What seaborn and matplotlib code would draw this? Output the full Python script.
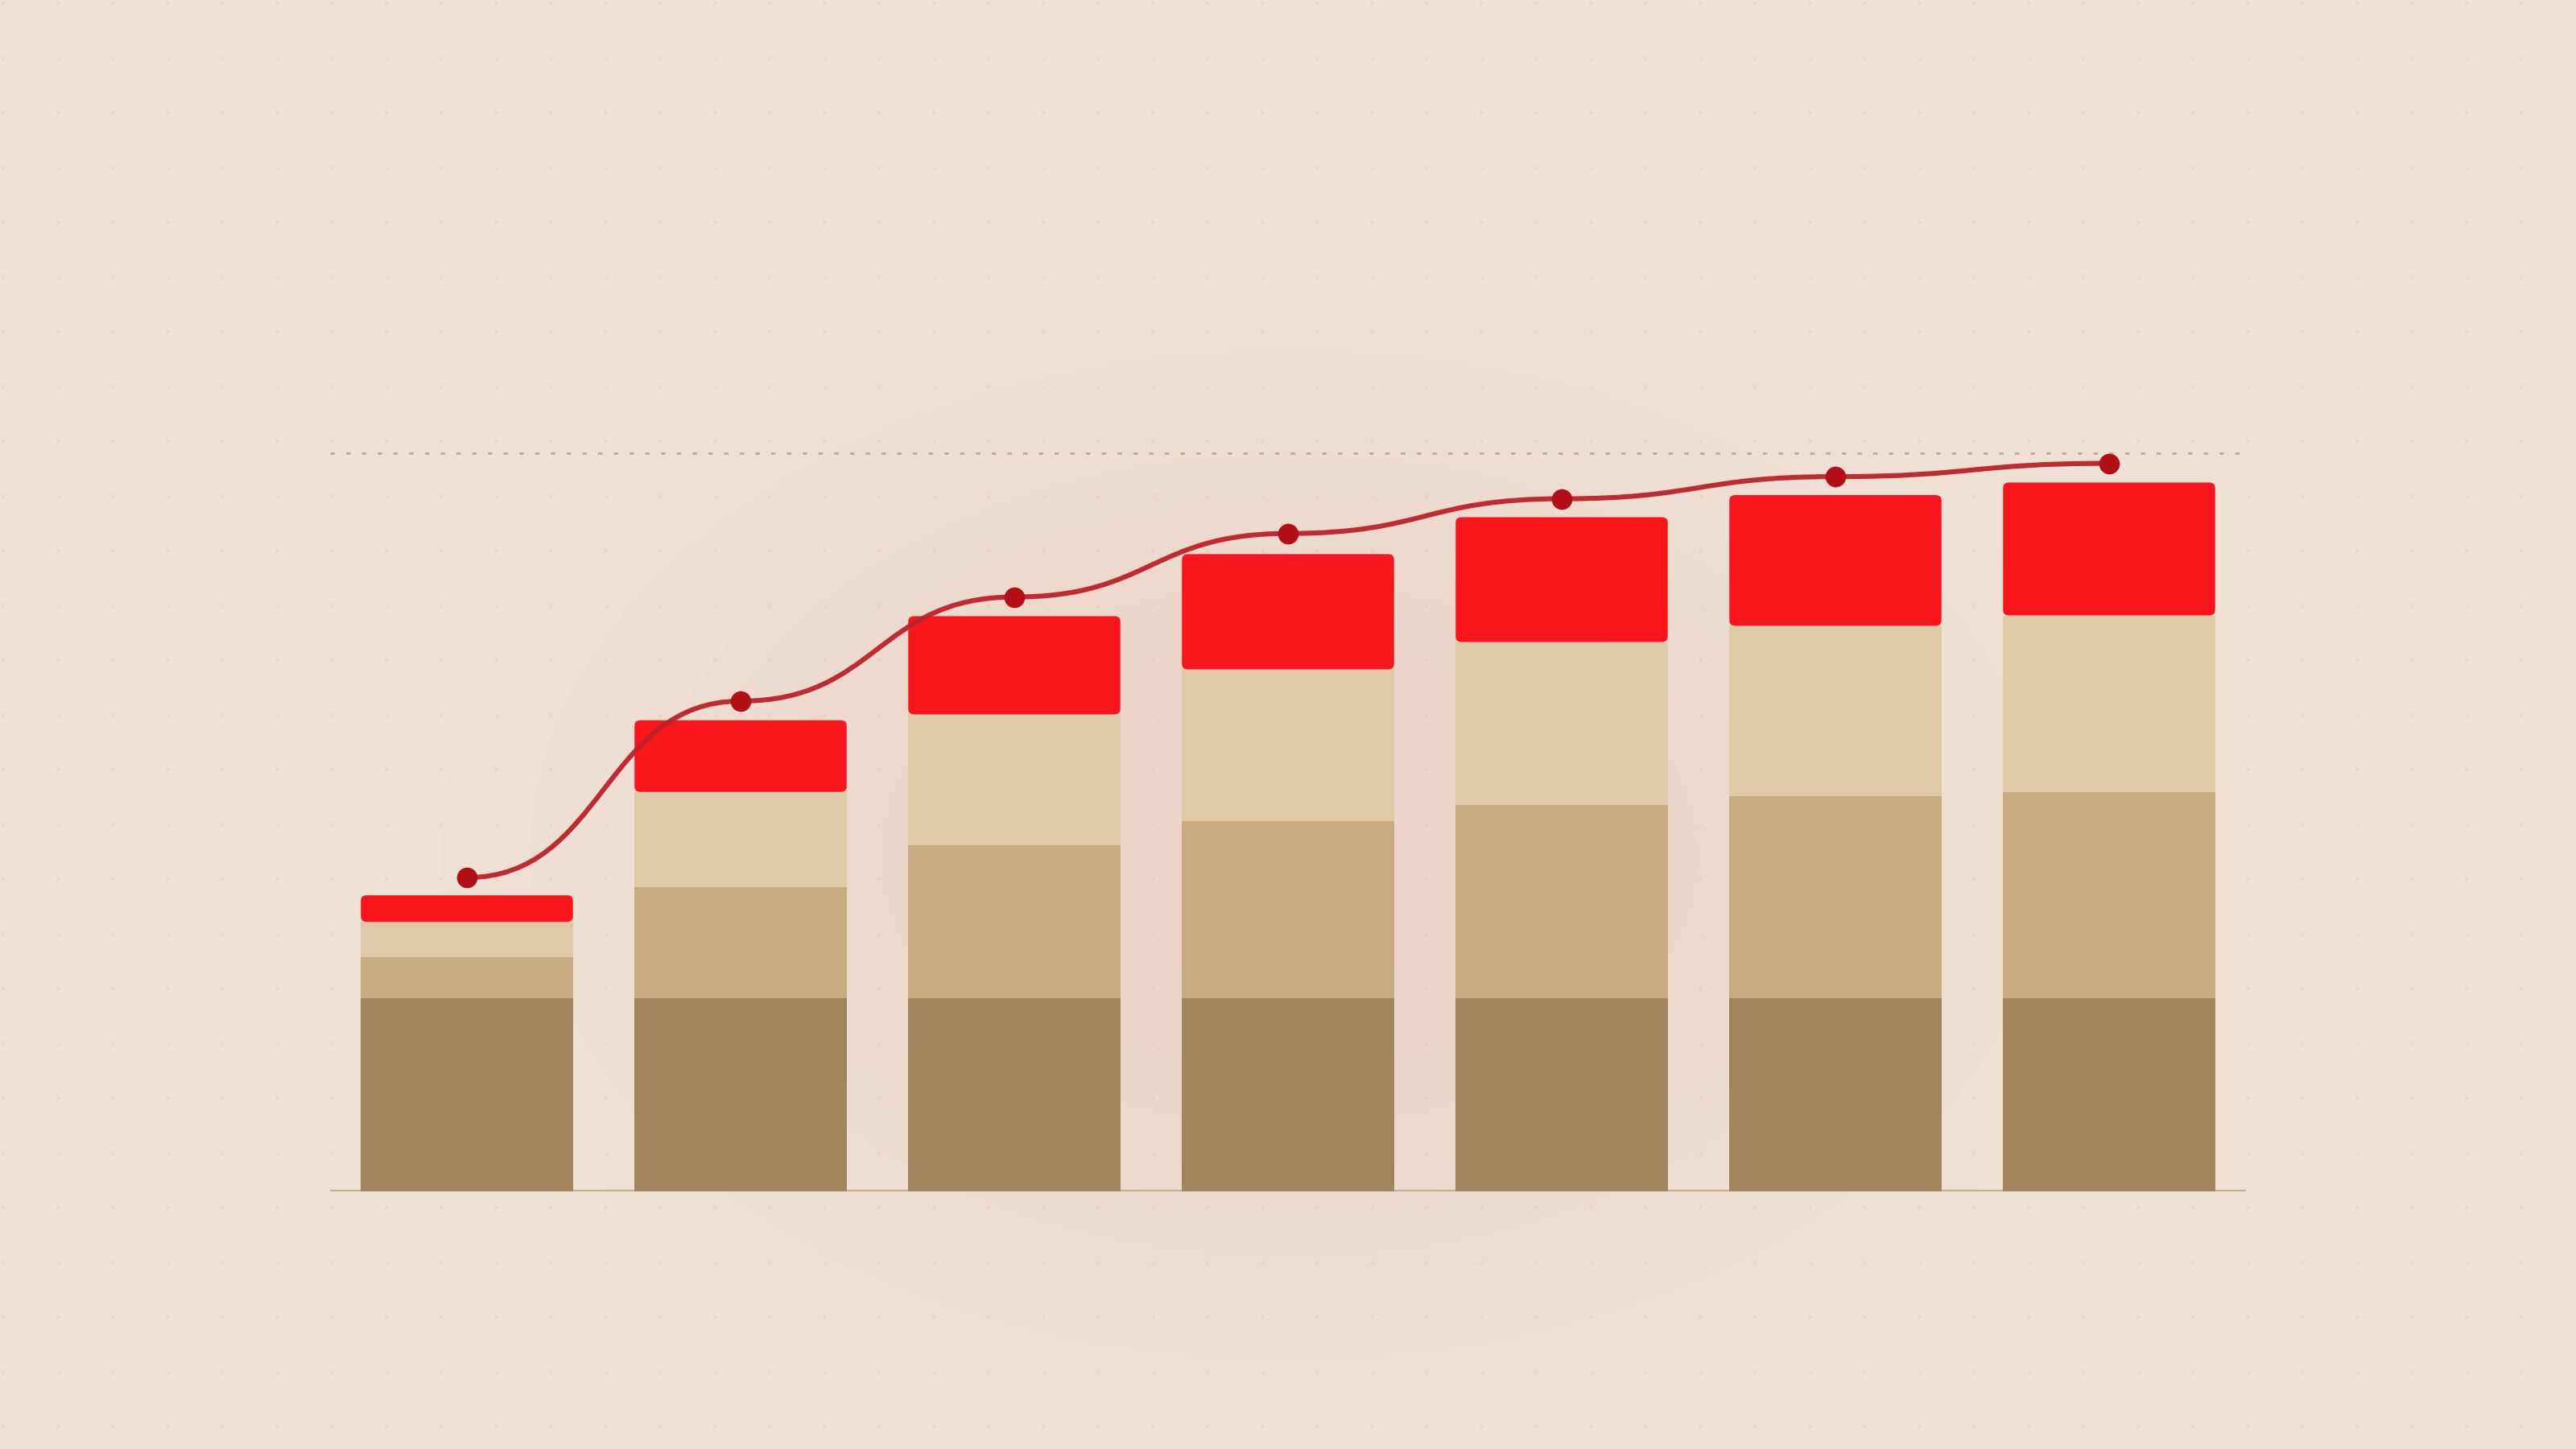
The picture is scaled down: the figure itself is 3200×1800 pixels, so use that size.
import numpy as np
import pandas as pd
import matplotlib
matplotlib.use('Agg')
import matplotlib.pyplot as plt
import seaborn as sns
from matplotlib.patches import FancyBboxPatch, PathPatch
from matplotlib.path import Path

# 데이터
stages = ['P1', 'P2', 'P3', 'P4', 'P5', 'P6', 'P7']
base_layer = [26.2, 26.2, 26.2, 26.2, 26.2, 26.2, 26.2]
mid_layer = [5.5, 15.0, 20.7, 24.0, 26.1, 27.3, 27.9]
light_layer = [4.8, 12.9, 17.7, 20.5, 22.1, 23.1, 23.9]
top_layer = [3.6, 9.7, 13.3, 15.6, 16.9, 17.7, 18.0]
trend = [42.5, 66.4, 80.5, 89.1, 93.8, 96.8, 98.6]
target = 100

# 색상
BG = '#F0E2D5'
GLOW = '#EDD3C8'
DARK = '#A0855F'
MID = '#C7AC80'
LIGHT = '#DFC9A8'
RED = '#F8161C'
LINE = '#BD2129'
MARK = '#B20F17'

df = pd.DataFrame({'stage': stages, 'base': base_layer, 'mid': mid_layer,
                   'light': light_layer, 'top': top_layer})
df['c1'] = df['base']
df['c2'] = df['c1'] + df['mid']
df['c3'] = df['c2'] + df['light']

sns.set_theme(style='white')
fig = plt.figure(figsize=(16, 9), dpi=200)
fig.patch.set_facecolor(BG)

# 배경 (은은한 원형 그라데이션 + 점 격자)
bg = fig.add_axes([0, 0, 1, 1], zorder=-5)
bg.set_axis_off()
W, H = 3200, 1800
yy, xx = np.mgrid[0:H:4, 0:W:4]
w = np.exp(-(((xx - 1600) / 720.0) ** 2 + ((yy - 1060) / 480.0) ** 2) ** 1.3)
c0 = np.array(matplotlib.colors.to_rgb(BG))
c1 = np.array(matplotlib.colors.to_rgb(GLOW))
img = c0[None, None, :] * (1 - w[..., None]) + c1[None, None, :] * w[..., None]
bg.imshow(img, extent=(0, W, H, 0), aspect='auto', interpolation='bilinear')
gx, gy = np.meshgrid(np.arange(4, W, 68), np.arange(4, H, 68))
bg.scatter(gx.ravel(), gy.ravel(), s=2.2, color='#B89A82', alpha=0.13, linewidths=0)
bg.set_xlim(0, W)
bg.set_ylim(H, 0)

# 메인 축
ax = fig.add_axes([410 / W, 320 / H, 2380 / W, 1009 / H])
ax.set_facecolor('none')
bar_w = 0.775

ax.axhline(0, color='#C6AF8C', lw=1.5, zorder=1)
ax.axhline(target, color='#C4AE97', lw=1.1, linestyle=(0, (1.8, 4.6)), zorder=1)

sns.barplot(data=df, x='stage', y='c3', color=LIGHT, saturation=1, width=bar_w,
            ax=ax, zorder=2, linewidth=0)
sns.barplot(data=df, x='stage', y='c2', color=MID, saturation=1, width=bar_w,
            ax=ax, zorder=2, linewidth=0)
sns.barplot(data=df, x='stage', y='c1', color=DARK, saturation=1, width=bar_w,
            ax=ax, zorder=2, linewidth=0)

n_before = len(ax.patches)
sns.barplot(data=df, x='stage', y='top', color=RED, saturation=1, width=bar_w,
            ax=ax, zorder=3, linewidth=0)
ax.set_xlim(-0.5, len(stages) - 0.5)
ax.set_ylim(0, 110)

# 빨간 막대: 둥근 모서리로 교체
px_x = 2380 / len(stages)
px_y = 1009 / 110
aspect = px_x / px_y
radius = 7 / px_x
red_bars = ax.patches[n_before:]
for p, b in zip(red_bars, df['c3']):
    box = FancyBboxPatch((p.get_x(), b), p.get_width(), p.get_height(),
                         boxstyle=f'round,pad=0,rounding_size={radius}',
                         mutation_aspect=aspect, facecolor=RED, edgecolor='none',
                         zorder=3)
    ax.add_patch(box)
    p.remove()

# 추세선 (수평 접선의 부드러운 곡선)
xs = np.arange(len(trend))
verts = [(xs[0], trend[0])]
codes = [Path.MOVETO]
for i in range(len(trend) - 1):
    xm = (xs[i] + xs[i + 1]) / 2
    verts += [(xm, trend[i]), (xm, trend[i + 1]), (xs[i + 1], trend[i + 1])]
    codes += [Path.CURVE4] * 3
ax.add_patch(PathPatch(Path(verts, codes), fill=False, edgecolor=LINE, lw=2.2,
                       alpha=0.95, zorder=4, capstyle='round'))
sns.scatterplot(x=xs, y=trend, color=MARK, s=85, linewidth=0, ax=ax, zorder=5)

ax.set_xlabel('')
ax.set_ylabel('')
ax.set_xticks([])
ax.set_yticks([])
for s in ax.spines.values():
    s.set_visible(False)

fig.savefig('out.png', dpi=200, facecolor=BG)
